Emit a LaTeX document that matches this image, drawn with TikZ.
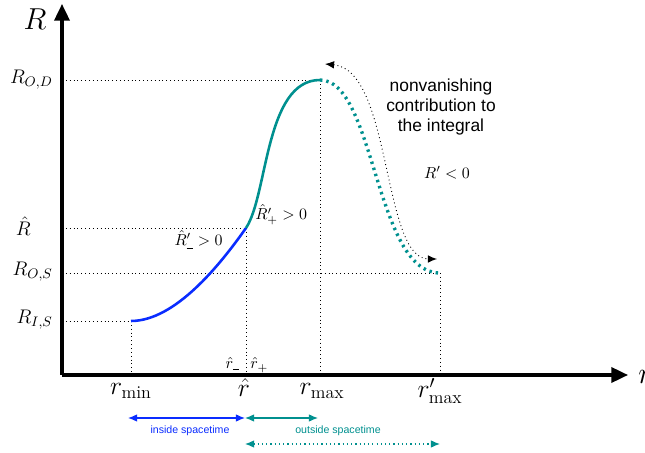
\RequirePackage{fix-cm}
\documentclass[tikz,border=0pt]{standalone}
\usepackage{amsmath}
\usepackage{fontspec}
\setsansfont{Liberation Sans}
\usepackage{tikz}
\usetikzlibrary{arrows.meta,positioning}
\definecolor{inblue}{HTML}{0A2CFF}
\definecolor{outteal}{HTML}{00908F}
\newcommand{\bminus}{\text{\rule[0.05ex]{0.55em}{0.22ex}}}

\begin{document}
\begin{tikzpicture}[x=0.66pt,y=-0.66pt,>=Latex]
\tikzset{axis/.style={line width=2pt, -{Triangle[length=11pt,width=10pt]}}, guide/.style={dotted, line width=.55pt}, ylab/.style={font=\fontsize{13}{15}\selectfont, anchor=east}, xlab/.style={font=\fontsize{17}{19}\selectfont}, note/.style={font=\sffamily\fontsize{11.5}{13}\selectfont, align=center}, small/.style={font=\sffamily\fontsize{7}{8}\selectfont}, curve/.style={line width=1.7pt}, span/.style={<->, line width=.8pt}}
\useasboundingbox (0,0) rectangle (645,453);
% axes
\coordinate (o) at (62,375);
\coordinate (ytop) at (62,4);
\coordinate (xend) at (628,375);
\draw[axis] (o) -- (ytop);
\draw[axis] (o) -- (xend);
\node[font=\fontsize{20}{22}\selectfont] (ylabel) at (35,19) {$R$};
\node[font=\fontsize{20}{22}\selectfont, anchor=west] (xlabel) at (633,377) {$r$};
% key points of the curve
\coordinate (pmin) at (131,321);
\coordinate (phat) at (246,228);
\coordinate (pmax) at (320,80);
\coordinate (pend) at (440,273);
% guides
\node[ylab] (rod) at (58,80) {$R_{O,D}$};
\node[ylab] (rhat) at (36,226) {$\hat R$};
\node[ylab] (ros) at (58,272) {$R_{O,S}$};
\node[ylab] (ris) at (58,320) {$R_{I,S}$};
\draw[guide] (rod.east) ++(4,0) -- (pmax);
\draw[guide] (62,228) -- (phat);
\draw[guide] (62,273) -- (pend);
\draw[guide] (62,321) -- (pmin);
\draw[guide] (pmin) -- (pmin |- o);
\draw[guide] (phat) -- (phat |- o);
\draw[guide] (pmax) -- (pmax |- o);
\draw[guide] (pend) -- (pend |- o);
% tick labels
\node[xlab] (rmin) at (131,391) {$r_{\min}$};
\node[xlab] (rh) at (244,388) {$\hat r$};
\node[xlab] (rmax) at (322,391) {$r_{\max}$};
\node[xlab] (rmaxp) at (440,391) {$r'_{\max}$};
\node[font=\fontsize{10.5}{12}\selectfont, anchor=east] (rminus) at (245,364) {$\hat r_{\bminus}$};
\node[font=\fontsize{10.5}{12}\selectfont, anchor=west] (rplus) at (245,365) {$\hat r_{+}$};
% the curve
\draw[curve, inblue] (pmin) .. controls (175,321) and (220,265) .. (phat);
\draw[curve, outteal] (phat) .. controls (268,195) and (265,80) .. (pmax);
\draw[outteal, line width=2.2pt, dash pattern=on 1.6pt off 2.6pt] (pmax) .. controls (375,80) and (375,273) .. (pend);
\node[font=\fontsize{10.5}{12}\selectfont, anchor=west] (dplus) at (250,215) {$\hat R'_{+} > 0$};
\node[font=\fontsize{10.5}{12}\selectfont, anchor=east] (dminus) at (228,240) {$\hat R'_{\bminus} > 0$};
% contribution
\coordinate (ctop) at (325,64);
\coordinate (cbot) at (437,259);
\draw[<->, dotted, line width=.6pt, >={Latex[length=6pt,width=5pt]}] (ctop) .. controls (392,70) and (382,259) .. (cbot);
\node[note] (contrib) at (441,107) {nonvanishing\\contribution to\\the integral};
\node[font=\fontsize{10.5}{12}\selectfont] (neg) at (447,173) {$R' < 0$};
% ranges
\coordinate (ia) at (128,418);
\coordinate (ib) at (245,418);
\coordinate (oa) at (245,418);
\coordinate (ob) at (318,418);
\coordinate (da) at (245,444);
\coordinate (db) at (440,444);
\draw[span, inblue, >={Latex[length=6pt,width=5pt]}] (ia) -- (ib);
\draw[span, outteal, >={Latex[length=6pt,width=5pt]}] (oa) -- (ob);
\draw[span, outteal, dotted, >={Latex[length=6pt,width=5pt]}] (da) -- (db);
\node[small, inblue] (inside) at (190,431) {inside spacetime};
\node[small, outteal] (outside) at (338,431) {outside spacetime};
\end{tikzpicture}
\end{document}
